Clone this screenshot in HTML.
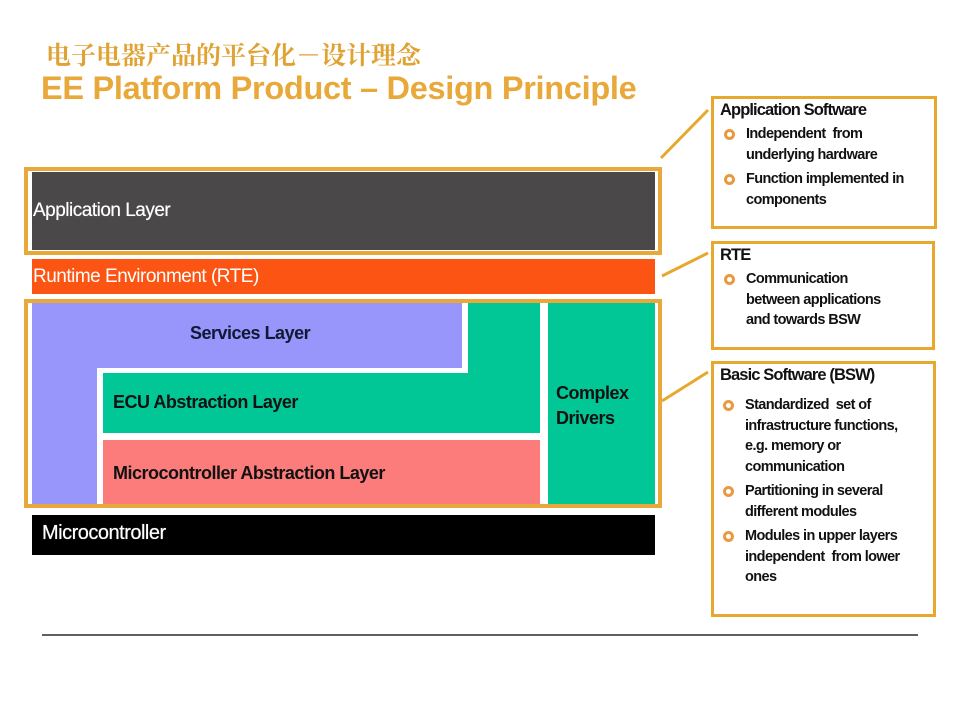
<!DOCTYPE html>
<html><head><meta charset="utf-8"><style>
body{margin:0;width:960px;height:720px;background:#fff;position:relative;overflow:hidden;font-family:"Liberation Sans",Arial,sans-serif}
.a{position:absolute;box-sizing:border-box}
.g{border:4px solid #e8a93a}
.lbl{position:absolute;font-weight:bold;font-size:18px;letter-spacing:-0.5px;white-space:nowrap}
.box{position:absolute;box-sizing:border-box;border:3px solid #e6a92e;padding:1px 6px;font-size:14.5px;font-weight:bold;color:#111;letter-spacing:-0.6px;line-height:20.5px;white-space:nowrap}
.box h{display:block;font-size:16.5px;letter-spacing:-0.9px;line-height:20px;margin-bottom:4px}
.box ul{list-style:none;margin:0;padding:0 0 0 26px}
.box li{position:relative;margin-bottom:4px}
.box li:before{content:"";position:absolute;left:-22px;top:5px;width:5px;height:5px;border:3px solid #e89a40;border-radius:50%;background:#fff}
</style></head><body>
<div class="a" style="left:46px;top:36px;font-family:'Noto Serif CJK SC',serif;font-size:25px;color:#e0a233;font-weight:bold;letter-spacing:0px;white-space:nowrap">电子电器产品的平台化－设计理念</div>
<div class="a" style="left:41px;top:70px;font-size:32.5px;font-weight:bold;color:#e8a93a;letter-spacing:-0.3px;white-space:nowrap">EE Platform Product – Design Principle</div>

<div class="a g" style="left:24px;top:167px;width:638px;height:88px"></div>
<div class="a" style="left:32px;top:172px;width:623px;height:78px;background:#4a4848"></div>
<div class="lbl" style="left:33px;top:200px;color:#fff;font-weight:normal;font-size:19px;text-shadow:0 0 0.5px #fff">Application Layer</div>

<div class="a" style="left:32px;top:259px;width:623px;height:35px;background:#fc5412"></div>
<div class="lbl" style="left:33px;top:266px;color:#fff;font-weight:normal;font-size:19px">Runtime Environment (RTE)</div>

<div class="a" style="left:32px;top:302px;width:430px;height:66px;background:#9896fb"></div>
<div class="a" style="left:32px;top:302px;width:65px;height:202px;background:#9896fb"></div>
<div class="a" style="left:468px;top:302px;width:72px;height:131px;background:#00c795"></div>
<div class="a" style="left:103px;top:373px;width:437px;height:60px;background:#00c795"></div>
<div class="a" style="left:103px;top:440px;width:437px;height:64px;background:#fc7b7b"></div>
<div class="a" style="left:548px;top:302px;width:107px;height:202px;background:#00c795"></div>
<div class="a g" style="left:24px;top:299px;width:638px;height:209px"></div>
<div class="lbl" style="left:190px;top:323px;color:#111933">Services Layer</div>
<div class="lbl" style="left:113px;top:392px;color:#111">ECU Abstraction Layer</div>
<div class="lbl" style="left:113px;top:463px;color:#111">Microcontroller Abstraction Layer</div>
<div class="lbl" style="left:556px;top:381px;color:#111;line-height:25px">Complex<br>Drivers</div>

<div class="a" style="left:32px;top:515px;width:623px;height:40px;background:#000"></div>
<div class="lbl" style="left:42px;top:522px;color:#fff;font-weight:normal;font-size:20px;text-shadow:0 0 0.6px #fff">Microcontroller</div>

<svg class="a" style="left:0;top:0" width="960" height="720">
<g stroke="#e6a92e" stroke-width="3">
<line x1="661" y1="158" x2="708" y2="110"/>
<line x1="662" y1="276" x2="708" y2="253"/>
<line x1="662" y1="401" x2="708" y2="372"/>
</g>
<line x1="42" y1="635" x2="918" y2="635" stroke="#000" stroke-width="1.2"/>
</svg>

<div class="box" style="left:711px;top:96px;width:226px;height:133px"><h>Application Software</h>
<ul><li>Independent &nbsp;from<br>underlying hardware</li><li>Function implemented in<br>components</li></ul></div>
<div class="box" style="left:711px;top:241px;width:224px;height:109px"><h>RTE</h>
<ul><li>Communication<br>between applications<br>and towards BSW</li></ul></div>
<div class="box" style="left:711px;top:361px;width:225px;height:256px"><h style="margin-bottom:10px">Basic Software (BSW)</h>
<ul style="padding-left:25px"><li>Standardized &nbsp;set of<br>infrastructure functions,<br>e.g. memory or<br>communication</li><li>Partitioning in several<br>different modules</li><li>Modules in upper layers<br>independent &nbsp;from lower<br>ones</li></ul></div>
</body></html>
